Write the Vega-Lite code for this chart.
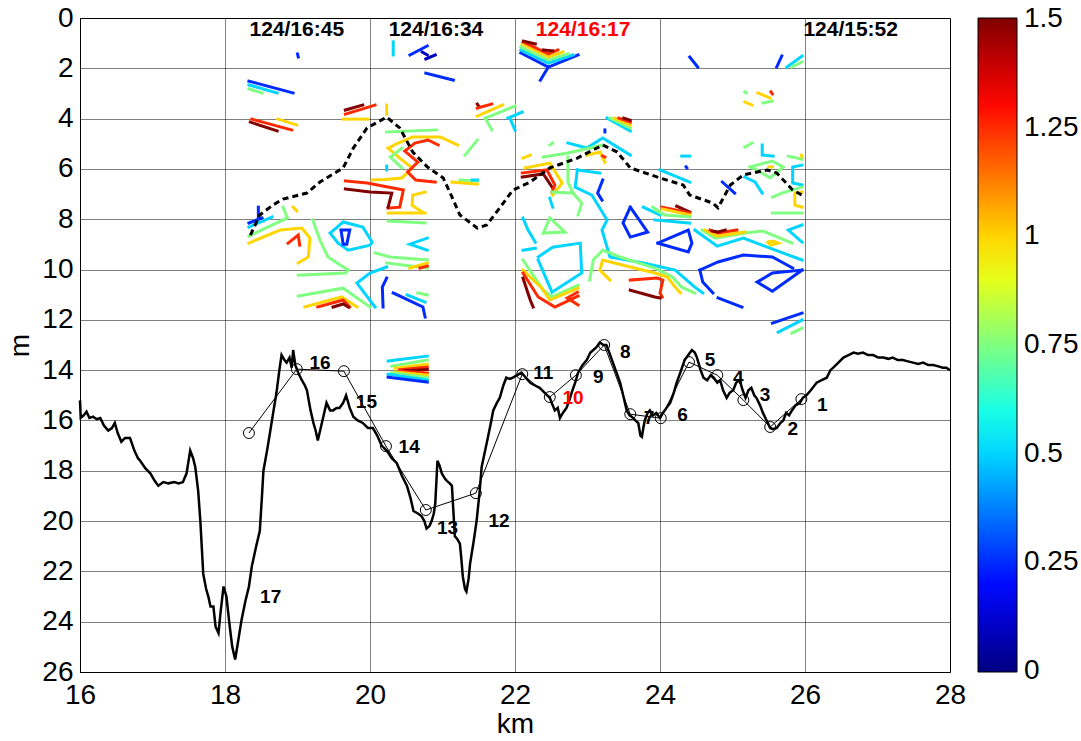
{
"$schema": "https://vega.github.io/schema/vega-lite/v6.json",
"width": 870, "height": 654,
"autosize": {"type": "none"},
"padding": {"left": 80, "top": 18, "right": 131, "bottom": 69},
"background": "white",
"config": {"view": {"stroke": "black", "strokeWidth": 1}, "font": "Liberation Sans"},
"datasets": {
"contours": [
{"g":"c1","v":0.25,"o":0,"x":19.0,"y":1.43},{"g":"c1","v":0.25,"o":1,"x":19.01,"y":1.55},
{"g":"c2","v":0.25,"o":0,"x":18.33,"y":2.51},{"g":"c2","v":0.25,"o":1,"x":18.94,"y":2.98},
{"g":"c3","v":0.5,"o":0,"x":18.33,"y":2.66},{"g":"c3","v":0.5,"o":1,"x":18.72,"y":2.98},
{"g":"c4","v":0.75,"o":0,"x":18.33,"y":2.82},{"g":"c4","v":0.75,"o":1,"x":18.51,"y":2.98},
{"g":"c5","v":1.25,"o":0,"x":18.37,"y":4.02},{"g":"c5","v":1.25,"o":1,"x":18.92,"y":4.45},
{"g":"c6","v":1.5,"o":0,"x":18.35,"y":4.14},{"g":"c6","v":1.5,"o":1,"x":18.72,"y":4.49},
{"g":"c7","v":1.0,"o":0,"x":18.73,"y":4.02},{"g":"c7","v":1.0,"o":1,"x":18.99,"y":4.25},
{"g":"c8","v":1.5,"o":0,"x":19.66,"y":3.66},{"g":"c8","v":1.5,"o":1,"x":19.9,"y":3.46},
{"g":"c9","v":1.25,"o":0,"x":19.66,"y":3.82},{"g":"c9","v":1.25,"o":1,"x":20.07,"y":3.46},
{"g":"c10","v":1.0,"o":0,"x":19.63,"y":4.02},{"g":"c10","v":1.0,"o":1,"x":19.97,"y":4.02},
{"g":"c11","v":1.0,"o":0,"x":20.23,"y":3.46},{"g":"c11","v":1.0,"o":1,"x":20.23,"y":3.82},
{"g":"c12","v":0.5,"o":0,"x":20.32,"y":0.95},{"g":"c12","v":0.5,"o":1,"x":20.32,"y":1.47},
{"g":"c13","v":0.25,"o":0,"x":20.55,"y":1.47},{"g":"c13","v":0.25,"o":1,"x":20.79,"y":1.11},
{"g":"c14","v":0.1,"o":0,"x":20.72,"y":1.35},{"g":"c14","v":0.1,"o":1,"x":20.79,"y":1.47},
{"g":"c15","v":0.1,"o":0,"x":20.77,"y":1.63},{"g":"c15","v":0.1,"o":1,"x":20.9,"y":1.47},
{"g":"c16","v":0.25,"o":0,"x":20.77,"y":2.19},{"g":"c16","v":0.25,"o":1,"x":21.15,"y":2.47},
{"g":"c17","v":1.5,"o":0,"x":21.48,"y":3.42},{"g":"c17","v":1.5,"o":1,"x":21.5,"y":3.5},
{"g":"c18","v":1.25,"o":0,"x":21.48,"y":3.58},{"g":"c18","v":1.25,"o":1,"x":21.68,"y":3.42},
{"g":"c19","v":1.0,"o":0,"x":21.48,"y":3.9},{"g":"c19","v":1.0,"o":1,"x":21.83,"y":3.46},
{"g":"c20","v":0.75,"o":0,"x":21.59,"y":3.98},{"g":"c20","v":0.75,"o":1,"x":22.0,"y":3.5},
{"g":"c21","v":0.75,"o":0,"x":21.59,"y":3.98},{"g":"c21","v":0.75,"o":1,"x":21.68,"y":4.45},
{"g":"c22","v":0.5,"o":0,"x":21.9,"y":3.98},{"g":"c22","v":0.5,"o":1,"x":22.1,"y":3.74},
{"g":"c23","v":0.5,"o":0,"x":21.93,"y":3.98},{"g":"c23","v":0.5,"o":1,"x":22.0,"y":4.45},
{"g":"c24","v":0.75,"o":0,"x":20.23,"y":4.53},{"g":"c24","v":0.75,"o":1,"x":20.92,"y":4.45},
{"g":"c25","v":1.0,"o":0,"x":21.21,"y":5.05},{"g":"c25","v":1.0,"o":1,"x":20.97,"y":4.73},{"g":"c25","v":1.0,"o":2,"x":20.59,"y":4.73},{"g":"c25","v":1.0,"o":3,"x":20.39,"y":4.97},{"g":"c25","v":1.0,"o":4,"x":20.25,"y":5.17},{"g":"c25","v":1.0,"o":5,"x":20.41,"y":5.57},{"g":"c25","v":1.0,"o":6,"x":20.58,"y":5.96},{"g":"c25","v":1.0,"o":7,"x":20.44,"y":6.36},{"g":"c25","v":1.0,"o":8,"x":20.21,"y":6.42},{"g":"c25","v":1.0,"o":9,"x":20.03,"y":6.44},
{"g":"c26","v":1.25,"o":0,"x":20.94,"y":5.05},{"g":"c26","v":1.25,"o":1,"x":20.8,"y":4.85},{"g":"c26","v":1.25,"o":2,"x":20.62,"y":4.97},{"g":"c26","v":1.25,"o":3,"x":20.48,"y":5.29},{"g":"c26","v":1.25,"o":4,"x":20.66,"y":5.73},{"g":"c26","v":1.25,"o":5,"x":20.52,"y":6.12},{"g":"c26","v":1.25,"o":6,"x":20.63,"y":6.44},{"g":"c26","v":1.25,"o":7,"x":20.9,"y":6.52},
{"g":"c27","v":0.75,"o":0,"x":20.44,"y":5.17},{"g":"c27","v":0.75,"o":1,"x":20.28,"y":5.53},{"g":"c27","v":0.75,"o":2,"x":20.44,"y":5.96},
{"g":"c28","v":0.5,"o":0,"x":20.23,"y":5.89},{"g":"c28","v":0.5,"o":1,"x":20.23,"y":6.04},
{"g":"c29","v":0.75,"o":0,"x":21.24,"y":6.44},{"g":"c29","v":0.75,"o":1,"x":21.48,"y":6.48},
{"g":"c30","v":1.0,"o":0,"x":21.13,"y":6.52},{"g":"c30","v":1.0,"o":1,"x":21.48,"y":6.6},
{"g":"c31","v":0.5,"o":0,"x":21.41,"y":6.44},{"g":"c31","v":0.5,"o":1,"x":21.48,"y":6.44},
{"g":"c32","v":0.75,"o":0,"x":21.31,"y":5.45},{"g":"c32","v":0.75,"o":1,"x":21.48,"y":4.85},
{"g":"c33","v":1.25,"o":0,"x":19.66,"y":6.48},{"g":"c33","v":1.25,"o":1,"x":19.96,"y":6.56},{"g":"c33","v":1.25,"o":2,"x":20.46,"y":6.84},{"g":"c33","v":1.25,"o":3,"x":20.41,"y":7.52},{"g":"c33","v":1.25,"o":4,"x":20.25,"y":7.56},
{"g":"c34","v":1.5,"o":0,"x":19.66,"y":6.8},{"g":"c34","v":1.5,"o":1,"x":20.0,"y":6.92},{"g":"c34","v":1.5,"o":2,"x":20.3,"y":6.96},{"g":"c34","v":1.5,"o":3,"x":20.25,"y":7.52},
{"g":"c35","v":1.0,"o":0,"x":20.25,"y":7.75},{"g":"c35","v":1.0,"o":1,"x":20.76,"y":7.75},
{"g":"c35b","v":1.0,"o":0,"x":20.76,"y":6.92},{"g":"c35b","v":1.0,"o":1,"x":20.59,"y":7.04},{"g":"c35b","v":1.0,"o":2,"x":20.58,"y":7.44},{"g":"c35b","v":1.0,"o":3,"x":20.72,"y":7.71},
{"g":"c36","v":0.75,"o":0,"x":20.25,"y":8.07},{"g":"c36","v":0.75,"o":1,"x":20.76,"y":8.15},
{"g":"c37","v":0.5,"o":0,"x":20.79,"y":8.75},{"g":"c37","v":0.5,"o":1,"x":20.55,"y":8.99},{"g":"c37","v":0.5,"o":2,"x":20.79,"y":9.23},
{"g":"c38","v":0.75,"o":0,"x":20.07,"y":9.34},{"g":"c38","v":0.75,"o":1,"x":20.28,"y":9.5},{"g":"c38","v":0.75,"o":2,"x":20.79,"y":9.62},
{"g":"c39","v":0.75,"o":0,"x":20.23,"y":9.74},{"g":"c39","v":0.75,"o":1,"x":20.79,"y":9.94},
{"g":"c40","v":1.0,"o":0,"x":20.55,"y":9.94},{"g":"c40","v":1.0,"o":1,"x":20.79,"y":9.74},
{"g":"c41","v":1.25,"o":0,"x":20.69,"y":9.94},{"g":"c41","v":1.25,"o":1,"x":20.79,"y":9.86},
{"g":"c42","v":0.25,"o":0,"x":18.33,"y":8.15},{"g":"c42","v":0.25,"o":1,"x":18.51,"y":7.95},
{"g":"c42b","v":0.25,"o":0,"x":18.46,"y":7.52},{"g":"c42b","v":0.25,"o":1,"x":18.46,"y":7.95},
{"g":"c43","v":0.5,"o":0,"x":18.33,"y":8.31},{"g":"c43","v":0.5,"o":1,"x":18.65,"y":7.91},
{"g":"c44","v":0.75,"o":0,"x":18.33,"y":8.67},{"g":"c44","v":0.75,"o":1,"x":18.86,"y":7.95},{"g":"c44","v":0.75,"o":2,"x":18.8,"y":7.52},
{"g":"c45","v":1.0,"o":0,"x":18.33,"y":8.95},{"g":"c45","v":1.0,"o":1,"x":18.76,"y":8.43},{"g":"c45","v":1.0,"o":2,"x":19.06,"y":8.35},{"g":"c45","v":1.0,"o":3,"x":19.17,"y":8.75},{"g":"c45","v":1.0,"o":4,"x":19.15,"y":9.5},{"g":"c45","v":1.0,"o":5,"x":19.01,"y":9.74},
{"g":"c46","v":1.0,"o":0,"x":18.94,"y":7.52},{"g":"c46","v":1.0,"o":1,"x":18.99,"y":7.67},
{"g":"c47","v":1.25,"o":0,"x":18.87,"y":8.95},{"g":"c47","v":1.25,"o":1,"x":19.01,"y":8.63},{"g":"c47","v":1.25,"o":2,"x":19.03,"y":9.03},
{"g":"c48","v":0.75,"o":0,"x":19.21,"y":8.03},{"g":"c48","v":0.75,"o":1,"x":19.31,"y":8.83},{"g":"c48","v":0.75,"o":2,"x":19.42,"y":9.5},{"g":"c48","v":0.75,"o":3,"x":19.63,"y":9.9},{"g":"c48","v":0.75,"o":4,"x":19.7,"y":10.02},{"g":"c48","v":0.75,"o":5,"x":19.66,"y":10.14},{"g":"c48","v":0.75,"o":6,"x":19.01,"y":10.22},
{"g":"c49","v":0.5,"o":0,"x":19.45,"y":8.55},{"g":"c49","v":0.5,"o":1,"x":19.63,"y":8.11},{"g":"c49","v":0.5,"o":2,"x":19.9,"y":8.31},{"g":"c49","v":0.5,"o":3,"x":20.03,"y":8.91},{"g":"c49","v":0.5,"o":4,"x":20.0,"y":9.03},{"g":"c49","v":0.5,"o":5,"x":19.7,"y":9.23},{"g":"c49","v":0.5,"o":6,"x":19.56,"y":8.95},{"g":"c49","v":0.5,"o":7,"x":19.45,"y":8.55},
{"g":"c50","v":0.25,"o":0,"x":19.6,"y":8.43},{"g":"c50","v":0.25,"o":1,"x":19.72,"y":8.43},{"g":"c50","v":0.25,"o":2,"x":19.68,"y":8.99},{"g":"c50","v":0.25,"o":3,"x":19.63,"y":8.99},{"g":"c50","v":0.25,"o":4,"x":19.6,"y":8.43},
{"g":"c51","v":0.5,"o":0,"x":20.07,"y":11.49},{"g":"c51","v":0.5,"o":1,"x":19.82,"y":10.54},{"g":"c51","v":0.5,"o":2,"x":20.0,"y":10.14},{"g":"c51","v":0.5,"o":3,"x":20.23,"y":9.9},
{"g":"c52","v":0.75,"o":0,"x":19.01,"y":11.05},{"g":"c52","v":0.75,"o":1,"x":19.63,"y":10.74},{"g":"c52","v":0.75,"o":2,"x":20.0,"y":11.49},
{"g":"c53","v":1.0,"o":0,"x":19.1,"y":11.49},{"g":"c53","v":1.0,"o":1,"x":19.61,"y":11.09},{"g":"c53","v":1.0,"o":2,"x":19.82,"y":11.49},
{"g":"c54","v":1.25,"o":0,"x":19.28,"y":11.49},{"g":"c54","v":1.25,"o":1,"x":19.63,"y":11.21},{"g":"c54","v":1.25,"o":2,"x":19.72,"y":11.49},
{"g":"c55","v":1.5,"o":0,"x":19.49,"y":11.49},{"g":"c55","v":1.5,"o":1,"x":19.63,"y":11.37},{"g":"c55","v":1.5,"o":2,"x":19.7,"y":11.49},
{"g":"c56","v":0.25,"o":0,"x":20.23,"y":10.34},{"g":"c56","v":0.25,"o":1,"x":20.17,"y":10.7},{"g":"c56","v":0.25,"o":2,"x":20.18,"y":11.49},
{"g":"c57","v":0.25,"o":0,"x":20.32,"y":10.93},{"g":"c57","v":0.25,"o":1,"x":20.73,"y":11.49},{"g":"c57","v":0.25,"o":2,"x":20.76,"y":11.89},
{"g":"c58","v":0.5,"o":0,"x":20.51,"y":11.01},{"g":"c58","v":0.5,"o":1,"x":20.76,"y":11.29},
{"g":"c59","v":0.75,"o":0,"x":20.66,"y":10.93},{"g":"c59","v":0.75,"o":1,"x":20.79,"y":11.01},
{"g":"c60","v":0.5,"o":0,"x":20.25,"y":13.64},{"g":"c60","v":0.5,"o":1,"x":20.79,"y":13.44},
{"g":"c61","v":0.75,"o":0,"x":20.3,"y":13.84},{"g":"c61","v":0.75,"o":1,"x":20.79,"y":13.6},
{"g":"c62","v":1.0,"o":0,"x":20.35,"y":13.92},{"g":"c62","v":1.0,"o":1,"x":20.79,"y":13.76},
{"g":"c63","v":1.25,"o":0,"x":20.41,"y":13.98},{"g":"c63","v":1.25,"o":1,"x":20.79,"y":13.88},
{"g":"c64","v":1.5,"o":0,"x":20.48,"y":14.02},{"g":"c64","v":1.5,"o":1,"x":20.79,"y":13.98},
{"g":"c65","v":1.25,"o":0,"x":20.41,"y":14.04},{"g":"c65","v":1.25,"o":1,"x":20.79,"y":14.12},
{"g":"c66","v":1.0,"o":0,"x":20.35,"y":14.07},{"g":"c66","v":1.0,"o":1,"x":20.79,"y":14.2},
{"g":"c67","v":0.75,"o":0,"x":20.3,"y":14.1},{"g":"c67","v":0.75,"o":1,"x":20.79,"y":14.29},
{"g":"c68","v":0.5,"o":0,"x":20.25,"y":14.16},{"g":"c68","v":0.5,"o":1,"x":20.79,"y":14.39},
{"g":"c69","v":0.25,"o":0,"x":20.25,"y":14.28},{"g":"c69","v":0.25,"o":1,"x":20.79,"y":14.47},
{"g":"c70","v":0.25,"o":0,"x":22.08,"y":1.39},{"g":"c70","v":0.25,"o":1,"x":22.46,"y":1.95},{"g":"c70","v":0.25,"o":2,"x":22.87,"y":1.47},
{"g":"c71","v":0.25,"o":0,"x":22.46,"y":1.95},{"g":"c71","v":0.25,"o":1,"x":22.35,"y":2.47},
{"g":"c72","v":0.5,"o":0,"x":22.08,"y":1.27},{"g":"c72","v":0.5,"o":1,"x":22.46,"y":1.79},{"g":"c72","v":0.5,"o":2,"x":22.8,"y":1.47},
{"g":"c73","v":0.75,"o":0,"x":22.08,"y":1.15},{"g":"c73","v":0.75,"o":1,"x":22.46,"y":1.67},{"g":"c73","v":0.75,"o":2,"x":22.73,"y":1.43},
{"g":"c74","v":1.0,"o":0,"x":22.1,"y":1.03},{"g":"c74","v":1.0,"o":1,"x":22.46,"y":1.55},{"g":"c74","v":1.0,"o":2,"x":22.66,"y":1.35},
{"g":"c75","v":1.25,"o":0,"x":22.11,"y":0.95},{"g":"c75","v":1.25,"o":1,"x":22.46,"y":1.43},{"g":"c75","v":1.25,"o":2,"x":22.59,"y":1.27},
{"g":"c76","v":1.5,"o":0,"x":22.12,"y":0.92},{"g":"c76","v":1.5,"o":1,"x":22.28,"y":1.03},
{"g":"c77","v":1.5,"o":0,"x":22.39,"y":1.27},{"g":"c77","v":1.5,"o":1,"x":22.52,"y":1.31},
{"g":"c79","v":0.5,"o":0,"x":23.27,"y":3.98},{"g":"c79","v":0.5,"o":1,"x":23.59,"y":4.49},
{"g":"c80","v":0.75,"o":0,"x":23.31,"y":3.98},{"g":"c80","v":0.75,"o":1,"x":23.59,"y":4.37},
{"g":"c81","v":1.0,"o":0,"x":23.37,"y":3.98},{"g":"c81","v":1.0,"o":1,"x":23.59,"y":4.25},
{"g":"c82","v":1.25,"o":0,"x":23.43,"y":3.98},{"g":"c82","v":1.25,"o":1,"x":23.59,"y":4.14},
{"g":"c83","v":1.5,"o":0,"x":23.5,"y":3.98},{"g":"c83","v":1.5,"o":1,"x":23.59,"y":4.06},
{"g":"c84","v":0.25,"o":0,"x":23.24,"y":4.45},{"g":"c84","v":0.25,"o":1,"x":23.24,"y":4.53},
{"g":"c85","v":0.5,"o":0,"x":22.73,"y":4.97},{"g":"c85","v":0.5,"o":1,"x":22.99,"y":5.17},{"g":"c85","v":0.5,"o":2,"x":23.21,"y":4.77},{"g":"c85","v":0.5,"o":3,"x":23.59,"y":5.45},
{"g":"c86","v":0.75,"o":0,"x":22.39,"y":5.53},{"g":"c86","v":0.75,"o":1,"x":22.73,"y":5.37},{"g":"c86","v":0.75,"o":2,"x":23.21,"y":5.05},
{"g":"c87","v":0.75,"o":0,"x":22.48,"y":5.05},{"g":"c87","v":0.75,"o":1,"x":22.52,"y":4.97},
{"g":"c88","v":1.0,"o":0,"x":22.99,"y":5.45},{"g":"c88","v":1.0,"o":1,"x":23.17,"y":5.33},{"g":"c88","v":1.0,"o":2,"x":23.24,"y":5.73},
{"g":"c89","v":1.25,"o":0,"x":23.21,"y":5.49},{"g":"c89","v":1.25,"o":1,"x":23.24,"y":5.53},
{"g":"c90","v":1.0,"o":0,"x":22.11,"y":5.57},{"g":"c90","v":1.0,"o":1,"x":22.21,"y":5.45},
{"g":"c91","v":1.5,"o":0,"x":22.1,"y":6.32},{"g":"c91","v":1.5,"o":1,"x":22.39,"y":6.2},{"g":"c91","v":1.5,"o":2,"x":22.51,"y":6.72},
{"g":"c92","v":1.25,"o":0,"x":22.1,"y":6.16},{"g":"c92","v":1.25,"o":1,"x":22.44,"y":6.04},{"g":"c92","v":1.25,"o":2,"x":22.55,"y":6.64},{"g":"c92","v":1.25,"o":3,"x":22.51,"y":6.92},
{"g":"c93","v":1.0,"o":0,"x":22.14,"y":5.96},{"g":"c93","v":1.0,"o":1,"x":22.48,"y":5.77},{"g":"c93","v":1.0,"o":2,"x":22.65,"y":6.56},{"g":"c93","v":1.0,"o":3,"x":22.52,"y":7.04},
{"g":"c94","v":0.75,"o":0,"x":22.73,"y":5.53},{"g":"c94","v":0.75,"o":1,"x":22.73,"y":6.52},{"g":"c94","v":0.75,"o":2,"x":22.8,"y":6.96},{"g":"c94","v":0.75,"o":3,"x":22.92,"y":7.36},{"g":"c94","v":0.75,"o":4,"x":22.87,"y":7.83},
{"g":"c95","v":0.75,"o":0,"x":22.51,"y":6.92},{"g":"c95","v":0.75,"o":1,"x":22.8,"y":6.96},
{"g":"c96","v":0.5,"o":0,"x":22.86,"y":6.04},{"g":"c96","v":0.5,"o":1,"x":23.17,"y":6.16},
{"g":"c97","v":0.5,"o":0,"x":22.86,"y":6.04},{"g":"c97","v":0.5,"o":1,"x":22.83,"y":6.72},{"g":"c97","v":0.5,"o":2,"x":23.06,"y":7.04},{"g":"c97","v":0.5,"o":3,"x":23.27,"y":8.03},{"g":"c97","v":0.5,"o":4,"x":23.2,"y":8.43},{"g":"c97","v":0.5,"o":5,"x":23.27,"y":9.11},{"g":"c97","v":0.5,"o":6,"x":23.31,"y":9.5},{"g":"c97","v":0.5,"o":7,"x":23.77,"y":9.74},{"g":"c97","v":0.5,"o":8,"x":24.21,"y":10.02},{"g":"c97","v":0.5,"o":9,"x":24.48,"y":10.7},{"g":"c97","v":0.5,"o":10,"x":24.59,"y":10.93},
{"g":"c98","v":0.25,"o":0,"x":23.21,"y":6.44},{"g":"c98","v":0.25,"o":1,"x":23.14,"y":6.96},{"g":"c98","v":0.25,"o":2,"x":23.2,"y":7.24},
{"g":"c99","v":0.5,"o":0,"x":22.48,"y":7.16},{"g":"c99","v":0.5,"o":1,"x":22.52,"y":7.52},
{"g":"c100","v":0.5,"o":0,"x":22.11,"y":7.95},{"g":"c100","v":0.5,"o":1,"x":22.18,"y":8.43},{"g":"c100","v":0.5,"o":2,"x":22.28,"y":8.91},
{"g":"c101","v":0.5,"o":0,"x":22.11,"y":9.23},{"g":"c101","v":0.5,"o":1,"x":22.28,"y":9.15},
{"g":"c102","v":0.75,"o":0,"x":22.48,"y":7.95},{"g":"c102","v":0.75,"o":1,"x":22.39,"y":8.55},{"g":"c102","v":0.75,"o":2,"x":22.69,"y":8.51},{"g":"c102","v":0.75,"o":3,"x":22.48,"y":7.95},
{"g":"c103","v":0.25,"o":0,"x":23.59,"y":7.52},{"g":"c103","v":0.25,"o":1,"x":23.49,"y":8.15},{"g":"c103","v":0.25,"o":2,"x":23.59,"y":8.71},{"g":"c103","v":0.25,"o":3,"x":23.83,"y":8.51},{"g":"c103","v":0.25,"o":4,"x":23.59,"y":7.52},
{"g":"c104","v":0.5,"o":0,"x":23.77,"y":7.52},{"g":"c104","v":0.5,"o":1,"x":24.0,"y":7.83},
{"g":"c105","v":0.75,"o":0,"x":23.9,"y":7.52},{"g":"c105","v":0.75,"o":1,"x":24.0,"y":7.71},
{"g":"c106","v":0.5,"o":0,"x":22.32,"y":9.5},{"g":"c106","v":0.5,"o":1,"x":22.52,"y":9.11},{"g":"c106","v":0.5,"o":2,"x":22.9,"y":8.95},{"g":"c106","v":0.5,"o":3,"x":22.92,"y":10.14},{"g":"c106","v":0.5,"o":4,"x":22.51,"y":10.9},{"g":"c106","v":0.5,"o":5,"x":22.32,"y":9.62},
{"g":"c107","v":0.75,"o":0,"x":22.11,"y":9.62},{"g":"c107","v":0.75,"o":1,"x":22.39,"y":10.82},{"g":"c107","v":0.75,"o":2,"x":22.51,"y":11.09},{"g":"c107","v":0.75,"o":3,"x":22.87,"y":10.62},
{"g":"c108","v":1.0,"o":0,"x":22.11,"y":10.02},{"g":"c108","v":1.0,"o":1,"x":22.37,"y":10.74},{"g":"c108","v":1.0,"o":2,"x":22.48,"y":11.21},{"g":"c108","v":1.0,"o":3,"x":22.87,"y":10.74},
{"g":"c109","v":1.25,"o":0,"x":22.11,"y":10.14},{"g":"c109","v":1.25,"o":1,"x":22.32,"y":11.09},{"g":"c109","v":1.25,"o":2,"x":22.55,"y":11.49},{"g":"c109","v":1.25,"o":3,"x":22.87,"y":11.05},
{"g":"c110","v":1.5,"o":0,"x":22.11,"y":10.34},{"g":"c110","v":1.5,"o":1,"x":22.21,"y":11.21},{"g":"c110","v":1.5,"o":2,"x":22.25,"y":11.49},
{"g":"c111","v":1.25,"o":0,"x":22.86,"y":10.9},{"g":"c111","v":1.25,"o":1,"x":22.72,"y":11.13},{"g":"c111","v":1.25,"o":2,"x":22.87,"y":11.41},
{"g":"c112","v":0.75,"o":0,"x":23.03,"y":10.42},{"g":"c112","v":0.75,"o":1,"x":23.08,"y":9.62},{"g":"c112","v":0.75,"o":2,"x":23.21,"y":9.23},{"g":"c112","v":0.75,"o":3,"x":23.45,"y":9.5},{"g":"c112","v":0.75,"o":4,"x":23.93,"y":9.94},{"g":"c112","v":0.75,"o":5,"x":24.17,"y":10.3},{"g":"c112","v":0.75,"o":6,"x":24.3,"y":10.7},{"g":"c112","v":0.75,"o":7,"x":24.48,"y":10.93},
{"g":"c113","v":1.0,"o":0,"x":23.31,"y":10.42},{"g":"c113","v":1.0,"o":1,"x":23.17,"y":10.02},{"g":"c113","v":1.0,"o":2,"x":23.21,"y":9.62},{"g":"c113","v":1.0,"o":3,"x":23.59,"y":9.9},{"g":"c113","v":1.0,"o":4,"x":23.93,"y":10.14},{"g":"c113","v":1.0,"o":5,"x":24.1,"y":10.3},{"g":"c113","v":1.0,"o":6,"x":24.21,"y":10.7},{"g":"c113","v":1.0,"o":7,"x":24.28,"y":10.93},
{"g":"c114","v":1.25,"o":0,"x":23.59,"y":10.42},{"g":"c114","v":1.25,"o":1,"x":23.96,"y":10.34},{"g":"c114","v":1.25,"o":2,"x":24.04,"y":10.42},{"g":"c114","v":1.25,"o":3,"x":24.0,"y":10.93},{"g":"c114","v":1.25,"o":4,"x":24.03,"y":11.09},
{"g":"c115","v":1.5,"o":0,"x":23.59,"y":10.82},{"g":"c115","v":1.5,"o":1,"x":23.93,"y":11.09},{"g":"c115","v":1.5,"o":2,"x":24.0,"y":11.13},
{"g":"c116","v":0.25,"o":0,"x":24.41,"y":1.55},{"g":"c116","v":0.25,"o":1,"x":24.52,"y":1.95},
{"g":"c117","v":0.25,"o":0,"x":25.68,"y":1.51},{"g":"c117","v":0.25,"o":1,"x":25.61,"y":1.95},
{"g":"c118","v":0.5,"o":0,"x":25.96,"y":1.51},{"g":"c118","v":0.5,"o":1,"x":25.75,"y":1.95},
{"g":"c119","v":0.75,"o":0,"x":25.96,"y":1.75},{"g":"c119","v":0.75,"o":1,"x":25.82,"y":1.95},
{"g":"c120","v":0.75,"o":0,"x":25.17,"y":2.94},{"g":"c120","v":0.75,"o":1,"x":25.19,"y":2.98},
{"g":"c121","v":1.0,"o":0,"x":25.35,"y":2.98},{"g":"c121","v":1.0,"o":1,"x":25.52,"y":3.18},
{"g":"c122","v":1.25,"o":0,"x":25.53,"y":2.94},{"g":"c122","v":1.25,"o":1,"x":25.55,"y":3.02},
{"g":"c123","v":1.0,"o":0,"x":25.17,"y":3.34},{"g":"c123","v":1.0,"o":1,"x":25.27,"y":3.46},
{"g":"c124","v":0.75,"o":0,"x":25.42,"y":3.38},{"g":"c124","v":0.75,"o":1,"x":25.55,"y":3.3},
{"g":"c125","v":0.75,"o":0,"x":25.17,"y":5.13},{"g":"c125","v":0.75,"o":1,"x":25.27,"y":4.97},
{"g":"c126","v":0.5,"o":0,"x":25.41,"y":5.05},{"g":"c126","v":0.5,"o":1,"x":25.41,"y":5.45},{"g":"c126","v":0.5,"o":2,"x":25.56,"y":5.49},
{"g":"c127","v":0.75,"o":0,"x":25.77,"y":5.49},{"g":"c127","v":0.75,"o":1,"x":25.96,"y":5.61},
{"g":"c128","v":1.0,"o":0,"x":25.95,"y":5.45},{"g":"c128","v":1.0,"o":1,"x":25.96,"y":5.53},
{"g":"c129","v":0.5,"o":0,"x":24.3,"y":5.49},{"g":"c129","v":0.5,"o":1,"x":24.41,"y":5.49},
{"g":"c130","v":0.25,"o":0,"x":24.36,"y":5.92},{"g":"c130","v":0.25,"o":1,"x":24.37,"y":5.96},
{"g":"c131","v":0.5,"o":0,"x":24.0,"y":6.04},{"g":"c131","v":0.5,"o":1,"x":24.41,"y":6.52},
{"g":"c132","v":0.75,"o":0,"x":25.24,"y":5.92},{"g":"c132","v":0.75,"o":1,"x":25.55,"y":5.69},{"g":"c132","v":0.75,"o":2,"x":25.7,"y":5.92},{"g":"c132","v":0.75,"o":3,"x":25.52,"y":6.36},{"g":"c132","v":0.75,"o":4,"x":25.31,"y":6.0},{"g":"c132","v":0.75,"o":5,"x":25.24,"y":5.92},
{"g":"c133","v":1.0,"o":0,"x":25.5,"y":5.92},{"g":"c133","v":1.0,"o":1,"x":25.55,"y":5.92},
{"g":"c134","v":0.5,"o":0,"x":25.17,"y":6.32},{"g":"c134","v":0.5,"o":1,"x":25.31,"y":6.52},{"g":"c134","v":0.5,"o":2,"x":25.41,"y":6.96},
{"g":"c135","v":0.5,"o":0,"x":25.96,"y":5.85},{"g":"c135","v":0.5,"o":1,"x":25.83,"y":5.92},{"g":"c135","v":0.5,"o":2,"x":25.83,"y":6.56},{"g":"c135","v":0.5,"o":3,"x":25.96,"y":6.64},
{"g":"c136","v":0.75,"o":0,"x":25.55,"y":7.12},{"g":"c136","v":0.75,"o":1,"x":25.68,"y":6.96},{"g":"c136","v":0.75,"o":2,"x":25.96,"y":6.72},
{"g":"c137","v":1.0,"o":0,"x":25.96,"y":6.92},{"g":"c137","v":1.0,"o":1,"x":25.86,"y":6.96},{"g":"c137","v":1.0,"o":2,"x":25.86,"y":7.44},{"g":"c137","v":1.0,"o":3,"x":25.96,"y":7.52},
{"g":"c138","v":0.75,"o":0,"x":25.55,"y":7.75},{"g":"c138","v":0.75,"o":1,"x":25.96,"y":7.75},
{"g":"c139","v":0.25,"o":0,"x":24.86,"y":6.52},{"g":"c139","v":0.25,"o":1,"x":25.03,"y":6.96},
{"g":"c140","v":1.5,"o":0,"x":24.23,"y":7.48},{"g":"c140","v":1.5,"o":1,"x":24.41,"y":7.71},
{"g":"c141","v":1.25,"o":0,"x":24.03,"y":7.52},{"g":"c141","v":1.25,"o":1,"x":24.41,"y":7.75},
{"g":"c142","v":1.0,"o":0,"x":24.03,"y":7.59},{"g":"c142","v":1.0,"o":1,"x":24.41,"y":7.83},
{"g":"c143","v":0.75,"o":0,"x":23.93,"y":7.63},{"g":"c143","v":0.75,"o":1,"x":24.07,"y":7.83},{"g":"c143","v":0.75,"o":2,"x":24.41,"y":7.91},
{"g":"c144","v":0.5,"o":0,"x":23.93,"y":8.03},{"g":"c144","v":0.5,"o":1,"x":24.41,"y":8.15},
{"g":"c145","v":0.25,"o":0,"x":23.97,"y":8.95},{"g":"c145","v":0.25,"o":1,"x":24.39,"y":8.43},{"g":"c145","v":0.25,"o":2,"x":24.44,"y":8.95},{"g":"c145","v":0.25,"o":3,"x":24.39,"y":9.3},{"g":"c145","v":0.25,"o":4,"x":23.97,"y":8.95},
{"g":"c146","v":0.5,"o":0,"x":24.48,"y":8.43},{"g":"c146","v":0.5,"o":1,"x":24.79,"y":9.07},{"g":"c146","v":0.5,"o":2,"x":25.15,"y":8.75},{"g":"c146","v":0.5,"o":3,"x":25.59,"y":9.23},{"g":"c146","v":0.5,"o":4,"x":25.96,"y":9.62},
{"g":"c147","v":0.75,"o":0,"x":24.58,"y":8.43},{"g":"c147","v":0.75,"o":1,"x":24.76,"y":8.75},{"g":"c147","v":0.75,"o":2,"x":25.17,"y":8.55},{"g":"c147","v":0.75,"o":3,"x":25.42,"y":8.47},{"g":"c147","v":0.75,"o":4,"x":25.82,"y":8.95},
{"g":"c148","v":1.0,"o":0,"x":24.62,"y":8.43},{"g":"c148","v":1.0,"o":1,"x":24.79,"y":8.67},{"g":"c148","v":1.0,"o":2,"x":25.17,"y":8.51},
{"g":"c149","v":1.25,"o":0,"x":24.69,"y":8.43},{"g":"c149","v":1.25,"o":1,"x":24.8,"y":8.55},{"g":"c149","v":1.25,"o":2,"x":25.06,"y":8.43},
{"g":"c150","v":1.5,"o":0,"x":24.72,"y":8.47},{"g":"c150","v":1.5,"o":1,"x":24.8,"y":8.51},{"g":"c150","v":1.5,"o":2,"x":24.9,"y":8.43},
{"g":"c151","v":1.0,"o":0,"x":25.49,"y":8.91},{"g":"c151","v":1.0,"o":1,"x":25.56,"y":8.87},{"g":"c151","v":1.0,"o":2,"x":25.63,"y":8.95},{"g":"c151","v":1.0,"o":3,"x":25.52,"y":9.03},{"g":"c151","v":1.0,"o":4,"x":25.49,"y":8.91},
{"g":"c152","v":0.5,"o":0,"x":25.96,"y":8.23},{"g":"c152","v":0.5,"o":1,"x":25.77,"y":8.43},{"g":"c152","v":0.5,"o":2,"x":25.96,"y":8.91},
{"g":"c153","v":0.25,"o":0,"x":24.55,"y":10.02},{"g":"c153","v":0.25,"o":1,"x":24.8,"y":9.7},{"g":"c153","v":0.25,"o":2,"x":25.15,"y":9.42},{"g":"c153","v":0.25,"o":3,"x":25.55,"y":9.5},{"g":"c153","v":0.25,"o":4,"x":25.83,"y":9.94},
{"g":"c154","v":0.25,"o":0,"x":24.55,"y":10.02},{"g":"c154","v":0.25,"o":1,"x":24.59,"y":10.5},{"g":"c154","v":0.25,"o":2,"x":24.73,"y":10.93},
{"g":"c155","v":0.25,"o":0,"x":24.8,"y":11.13},{"g":"c155","v":0.25,"o":1,"x":25.13,"y":11.49},
{"g":"c156","v":0.25,"o":0,"x":25.96,"y":10.02},{"g":"c156","v":0.25,"o":1,"x":25.55,"y":10.14},{"g":"c156","v":0.25,"o":2,"x":25.34,"y":10.5},{"g":"c156","v":0.25,"o":3,"x":25.55,"y":10.86},{"g":"c156","v":0.25,"o":4,"x":25.96,"y":10.02},
{"g":"c157","v":0.25,"o":0,"x":25.55,"y":12.13},{"g":"c157","v":0.25,"o":1,"x":25.96,"y":11.73},
{"g":"c158","v":0.5,"o":0,"x":25.63,"y":12.49},{"g":"c158","v":0.5,"o":1,"x":25.96,"y":12.01},
{"g":"c159","v":0.75,"o":0,"x":25.82,"y":12.53},{"g":"c159","v":0.75,"o":1,"x":25.96,"y":12.33}
],
"dash": [
{"x":18.35,"y":8.63},{"x":18.48,"y":7.83},{"x":18.66,"y":7.44},{"x":18.8,"y":7.2},{"x":19.13,"y":6.96},{"x":19.31,"y":6.52},{"x":19.63,"y":5.96},{"x":19.77,"y":5.17},{"x":19.96,"y":4.37},{"x":20.23,"y":3.94},{"x":20.41,"y":4.37},{"x":20.59,"y":5.33},{"x":20.79,"y":5.92},{"x":21.01,"y":6.36},{"x":21.1,"y":6.92},{"x":21.24,"y":7.83},{"x":21.48,"y":8.35},{"x":21.61,"y":8.23},{"x":21.79,"y":7.55},{"x":21.97,"y":6.84},{"x":22.21,"y":6.52},{"x":22.48,"y":5.96},{"x":22.86,"y":5.57},{"x":23.21,"y":5.05},{"x":23.41,"y":5.33},{"x":23.59,"y":5.96},{"x":24.0,"y":6.36},{"x":24.32,"y":6.64},{"x":24.41,"y":7.04},{"x":24.73,"y":7.36},{"x":24.8,"y":7.55},{"x":24.97,"y":6.64},{"x":25.15,"y":6.24},{"x":25.48,"y":6.04},{"x":25.61,"y":6.16},{"x":25.83,"y":6.84},{"x":25.96,"y":7.04}
],
"bathy": [
{"x":16.0,"y":15.2},{"x":16.01,"y":15.9},{"x":16.05,"y":15.8},{"x":16.09,"y":15.65},{"x":16.13,"y":15.9},{"x":16.18,"y":15.85},{"x":16.23,"y":15.95},{"x":16.28,"y":15.9},{"x":16.33,"y":16.2},{"x":16.39,"y":16.4},{"x":16.44,"y":16.3},{"x":16.48,"y":16.1},{"x":16.52,"y":16.5},{"x":16.57,"y":16.85},{"x":16.62,"y":16.7},{"x":16.69,"y":16.7},{"x":16.75,"y":17.2},{"x":16.8,"y":17.5},{"x":16.83,"y":17.6},{"x":16.9,"y":17.9},{"x":16.97,"y":18.1},{"x":17.03,"y":18.4},{"x":17.08,"y":18.6},{"x":17.15,"y":18.45},{"x":17.22,"y":18.5},{"x":17.3,"y":18.45},{"x":17.36,"y":18.5},{"x":17.42,"y":18.45},{"x":17.47,"y":18.1},{"x":17.52,"y":17.2},{"x":17.56,"y":17.5},{"x":17.59,"y":17.85},{"x":17.63,"y":18.8},{"x":17.66,"y":20.0},{"x":17.7,"y":22.1},{"x":17.74,"y":22.7},{"x":17.77,"y":23.0},{"x":17.8,"y":23.4},{"x":17.84,"y":23.4},{"x":17.87,"y":24.2},{"x":17.91,"y":24.45},{"x":17.94,"y":23.6},{"x":17.98,"y":22.6},{"x":18.02,"y":23.0},{"x":18.05,"y":23.8},{"x":18.07,"y":24.3},{"x":18.1,"y":25.0},{"x":18.14,"y":25.5},{"x":18.18,"y":24.8},{"x":18.23,"y":23.9},{"x":18.28,"y":23.2},{"x":18.33,"y":22.6},{"x":18.37,"y":21.8},{"x":18.43,"y":21.0},{"x":18.48,"y":20.4},{"x":18.51,"y":19.0},{"x":18.53,"y":18.0},{"x":18.58,"y":17.2},{"x":18.62,"y":16.5},{"x":18.67,"y":15.6},{"x":18.71,"y":14.9},{"x":18.75,"y":14.0},{"x":18.78,"y":13.4},{"x":18.82,"y":13.6},{"x":18.85,"y":13.7},{"x":18.89,"y":13.5},{"x":18.92,"y":13.9},{"x":18.94,"y":13.2},{"x":18.97,"y":13.8},{"x":19.01,"y":14.1},{"x":19.06,"y":14.4},{"x":19.1,"y":14.6},{"x":19.13,"y":14.8},{"x":19.18,"y":15.6},{"x":19.22,"y":16.1},{"x":19.25,"y":16.4},{"x":19.28,"y":16.8},{"x":19.32,"y":16.3},{"x":19.36,"y":15.8},{"x":19.4,"y":15.3},{"x":19.45,"y":15.6},{"x":19.49,"y":15.6},{"x":19.54,"y":15.5},{"x":19.58,"y":15.5},{"x":19.63,"y":15.3},{"x":19.67,"y":15.0},{"x":19.72,"y":15.5},{"x":19.77,"y":15.85},{"x":19.83,"y":16.0},{"x":19.9,"y":16.1},{"x":19.97,"y":16.3},{"x":20.04,"y":16.3},{"x":20.1,"y":16.6},{"x":20.16,"y":17.0},{"x":20.23,"y":17.2},{"x":20.3,"y":17.5},{"x":20.37,"y":17.7},{"x":20.44,"y":18.2},{"x":20.51,"y":18.6},{"x":20.56,"y":19.1},{"x":20.6,"y":19.6},{"x":20.66,"y":19.7},{"x":20.71,"y":19.8},{"x":20.75,"y":20.0},{"x":20.78,"y":20.3},{"x":20.82,"y":20.2},{"x":20.85,"y":20.0},{"x":20.88,"y":19.7},{"x":20.9,"y":19.3},{"x":20.92,"y":18.2},{"x":20.93,"y":17.6},{"x":20.96,"y":17.8},{"x":20.99,"y":18.1},{"x":21.03,"y":18.3},{"x":21.06,"y":18.4},{"x":21.1,"y":18.5},{"x":21.13,"y":18.6},{"x":21.15,"y":19.6},{"x":21.17,"y":20.6},{"x":21.2,"y":20.7},{"x":21.24,"y":20.9},{"x":21.26,"y":21.5},{"x":21.28,"y":22.2},{"x":21.31,"y":22.7},{"x":21.33,"y":22.8},{"x":21.36,"y":22.3},{"x":21.38,"y":21.7},{"x":21.43,"y":20.8},{"x":21.47,"y":20.0},{"x":21.51,"y":18.9},{"x":21.54,"y":17.85},{"x":21.58,"y":17.3},{"x":21.61,"y":16.9},{"x":21.66,"y":16.2},{"x":21.7,"y":15.6},{"x":21.75,"y":15.3},{"x":21.79,"y":15.1},{"x":21.84,"y":14.6},{"x":21.88,"y":14.3},{"x":21.93,"y":14.35},{"x":21.97,"y":14.3},{"x":22.03,"y":14.2},{"x":22.09,"y":14.1},{"x":22.15,"y":14.3},{"x":22.21,"y":14.5},{"x":22.27,"y":14.6},{"x":22.34,"y":14.7},{"x":22.41,"y":14.9},{"x":22.48,"y":15.1},{"x":22.52,"y":15.4},{"x":22.55,"y":15.6},{"x":22.59,"y":15.5},{"x":22.62,"y":15.9},{"x":22.66,"y":15.7},{"x":22.71,"y":15.5},{"x":22.75,"y":15.2},{"x":22.78,"y":14.9},{"x":22.83,"y":14.5},{"x":22.87,"y":14.1},{"x":22.93,"y":13.8},{"x":22.99,"y":13.6},{"x":23.04,"y":13.3},{"x":23.08,"y":13.2},{"x":23.12,"y":13.1},{"x":23.17,"y":12.9},{"x":23.22,"y":13.0},{"x":23.26,"y":13.0},{"x":23.3,"y":13.3},{"x":23.35,"y":13.7},{"x":23.4,"y":14.1},{"x":23.45,"y":14.5},{"x":23.5,"y":15.1},{"x":23.54,"y":15.6},{"x":23.58,"y":15.8},{"x":23.61,"y":15.85},{"x":23.66,"y":16.0},{"x":23.7,"y":16.1},{"x":23.73,"y":16.6},{"x":23.75,"y":16.65},{"x":23.77,"y":16.3},{"x":23.79,"y":16.0},{"x":23.83,"y":15.7},{"x":23.86,"y":15.6},{"x":23.9,"y":15.8},{"x":23.95,"y":15.7},{"x":24.0,"y":15.9},{"x":24.04,"y":15.7},{"x":24.09,"y":15.5},{"x":24.14,"y":15.3},{"x":24.19,"y":14.9},{"x":24.23,"y":14.5},{"x":24.28,"y":14.1},{"x":24.34,"y":13.6},{"x":24.39,"y":13.4},{"x":24.44,"y":13.2},{"x":24.48,"y":13.3},{"x":24.51,"y":13.5},{"x":24.56,"y":14.0},{"x":24.6,"y":14.3},{"x":24.65,"y":14.4},{"x":24.7,"y":14.2},{"x":24.74,"y":14.3},{"x":24.79,"y":14.5},{"x":24.83,"y":14.4},{"x":24.87,"y":14.8},{"x":24.92,"y":15.1},{"x":24.96,"y":14.9},{"x":25.01,"y":14.8},{"x":25.05,"y":14.5},{"x":25.1,"y":14.4},{"x":25.14,"y":14.8},{"x":25.18,"y":15.1},{"x":25.22,"y":14.8},{"x":25.26,"y":14.7},{"x":25.3,"y":15.0},{"x":25.33,"y":15.1},{"x":25.38,"y":15.4},{"x":25.42,"y":15.7},{"x":25.47,"y":16.0},{"x":25.52,"y":16.3},{"x":25.56,"y":16.35},{"x":25.61,"y":16.3},{"x":25.66,"y":16.1},{"x":25.7,"y":16.0},{"x":25.74,"y":15.7},{"x":25.78,"y":15.8},{"x":25.82,"y":15.6},{"x":25.87,"y":15.4},{"x":25.93,"y":15.3},{"x":25.97,"y":15.1},{"x":26.02,"y":15.0},{"x":26.08,"y":14.8},{"x":26.16,"y":14.5},{"x":26.23,"y":14.4},{"x":26.3,"y":14.3},{"x":26.35,"y":14.0},{"x":26.39,"y":13.9},{"x":26.46,"y":13.7},{"x":26.53,"y":13.5},{"x":26.6,"y":13.4},{"x":26.67,"y":13.3},{"x":26.73,"y":13.35},{"x":26.8,"y":13.3},{"x":26.87,"y":13.4},{"x":26.94,"y":13.4},{"x":27.01,"y":13.5},{"x":27.08,"y":13.5},{"x":27.15,"y":13.55},{"x":27.21,"y":13.5},{"x":27.28,"y":13.6},{"x":27.35,"y":13.6},{"x":27.42,"y":13.65},{"x":27.49,"y":13.7},{"x":27.56,"y":13.75},{"x":27.63,"y":13.7},{"x":27.7,"y":13.8},{"x":27.77,"y":13.8},{"x":27.84,"y":13.85},{"x":27.9,"y":13.9},{"x":27.95,"y":13.9},{"x":28.0,"y":14.0}
],
"ship": [
{"s":17,"x":18.33,"y":16.5},{"s":16,"x":18.99,"y":13.96},{"s":15,"x":19.64,"y":14.04},{"s":14,"x":20.22,"y":17.02},{"s":13,"x":20.77,"y":19.56},{"s":12,"x":21.46,"y":18.89},{"s":11,"x":22.1,"y":14.16},{"s":10,"x":22.48,"y":15.07},{"s":9,"x":22.84,"y":14.2},{"s":8,"x":23.23,"y":13.0},{"s":7,"x":23.59,"y":15.75},{"s":6,"x":24.01,"y":15.91},{"s":5,"x":24.4,"y":13.68},{"s":4,"x":24.79,"y":14.2},{"s":3,"x":25.15,"y":15.19},{"s":2,"x":25.52,"y":16.26},{"s":1,"x":25.95,"y":15.15}
],
"labels": [
{"n":"1","x":26.24,"y":15.39},{"n":"2","x":25.83,"y":16.32},{"n":"3","x":25.45,"y":14.99},{"n":"4","x":25.08,"y":14.33},{"n":"5","x":24.69,"y":13.6},{"n":"6","x":24.31,"y":15.79},{"n":"7","x":23.85,"y":15.92},{"n":"8","x":23.52,"y":13.27},{"n":"9","x":23.15,"y":14.26},{"n":"10","x":22.8,"y":15.12},{"n":"11","x":22.39,"y":14.13},{"n":"12","x":21.78,"y":19.99},{"n":"13","x":21.07,"y":20.29},{"n":"14","x":20.54,"y":17.05},{"n":"15","x":19.95,"y":15.26},{"n":"16","x":19.31,"y":13.73},{"n":"17","x":18.63,"y":23.01}
],
"titles": [
{"t":"124/16:45","x":18.99,"y":0.48},{"t":"124/16:34","x":20.91,"y":0.48},{"t":"124/16:17","x":22.94,"y":0.48},{"t":"124/15:52","x":26.63,"y":0.48}
]
},
"layer": [
{"data": {"name": "contours"},
 "mark": {"type": "line", "strokeWidth": 3, "strokeCap": "square"},
 "encoding": {
  "x": {"field": "x", "type": "quantitative", "scale": {"domain": [16, 28], "nice": false, "zero": false},
   "axis": {"values": [16,18,20,22,24,26,28], "format": "d", "title": "km", "titleFontSize": 28, "titleFontWeight": "normal", "titleFont": "Liberation Sans", "titleColor": "black", "titleY": 60, "titleBaseline": "alphabetic",
    "labelFontSize": 28, "labelFont": "Liberation Sans", "labelColor": "black", "labelFlush": false, "labelPadding": 9, "labelOverlap": false,
    "ticks": false, "tickSize": 0, "domain": false, "grid": true, "gridColor": "black", "gridDash": [1, 1], "gridOpacity": 1, "gridWidth": 1}},
  "y": {"field": "y", "type": "quantitative", "scale": {"domain": [0, 26], "reverse": true, "nice": false, "zero": false},
   "axis": {"values": [0,2,4,6,8,10,12,14,16,18,20,22,24,26], "format": "d", "title": "m", "titleFontSize": 28, "titleFontWeight": "normal", "titleFont": "Liberation Sans", "titleColor": "black", "titleX": -60, "titleY": 327, "titleBaseline": "middle", "titleAlign": "center",
    "labelFontSize": 28, "labelFont": "Liberation Sans", "labelColor": "black", "labelFlush": false, "labelPadding": 7, "labelOverlap": false,
    "ticks": false, "tickSize": 0, "domain": false, "grid": true, "gridColor": "black", "gridDash": [1, 1], "gridOpacity": 1, "gridWidth": 1}},
  "detail": {"field": "g", "type": "nominal"},
  "order": {"field": "o", "type": "quantitative"},
  "color": {"field": "v", "type": "quantitative",
   "scale": {"type": "linear", "domain": [-0.002, 0.1875, 0.5625, 0.9375, 1.3125, 1.502], "range": ["#000080", "#0000ff", "#00ffff", "#ffff00", "#ff0000", "#800000"], "interpolate": "rgb"},
   "legend": {"orient": "none", "legendX": 898, "legendY": 0, "direction": "vertical", "title": null, "gradientLength": 654, "gradientThickness": 39, "gradientStrokeColor": "black", "gradientStrokeWidth": 1, "values": [0, 0.25, 0.5, 0.75, 1, 1.25, 1.5], "format": ".3~g", "labelFontSize": 28, "labelFont": "Liberation Sans", "labelColor": "black", "labelOffset": 7, "labelOverlap": false, "padding": 0}}
 }},
{"data": {"name": "dash"},
 "mark": {"type": "line", "color": "black", "strokeWidth": 3, "strokeDash": [6, 4]},
 "encoding": {"x": {"field": "x", "type": "quantitative", "scale": {"domain": [16, 28]}}, "y": {"field": "y", "type": "quantitative", "scale": {"domain": [0, 26], "reverse": true}}}},
{"data": {"name": "bathy"},
 "mark": {"type": "line", "color": "black", "strokeWidth": 2.5},
 "encoding": {"x": {"field": "x", "type": "quantitative"}, "y": {"field": "y", "type": "quantitative"}}},
{"data": {"name": "ship"},
 "mark": {"type": "line", "color": "black", "strokeWidth": 1},
 "encoding": {"x": {"field": "x", "type": "quantitative"}, "y": {"field": "y", "type": "quantitative"}}},
{"data": {"name": "ship"},
 "mark": {"type": "point", "shape": "circle", "filled": false, "size": 120, "stroke": "black", "strokeWidth": 1, "opacity": 1},
 "encoding": {"x": {"field": "x", "type": "quantitative"}, "y": {"field": "y", "type": "quantitative"}}},
{"data": {"name": "labels"},
 "mark": {"type": "text", "fontSize": 19, "fontWeight": "bold", "font": "Liberation Sans", "align": "center", "baseline": "middle"},
 "encoding": {"x": {"field": "x", "type": "quantitative"}, "y": {"field": "y", "type": "quantitative"}, "text": {"field": "n"},
  "color": {"condition": {"test": "datum.n === '10'", "value": "#ff0000"}, "value": "black"}}},
{"data": {"name": "titles"},
 "mark": {"type": "text", "fontSize": 21, "fontWeight": "bold", "font": "Liberation Sans", "align": "center", "baseline": "middle"},
 "encoding": {"x": {"field": "x", "type": "quantitative"}, "y": {"field": "y", "type": "quantitative"}, "text": {"field": "t"},
  "color": {"condition": {"test": "datum.t === '124/16:17'", "value": "#ff0000"}, "value": "black"}}}
]
}
